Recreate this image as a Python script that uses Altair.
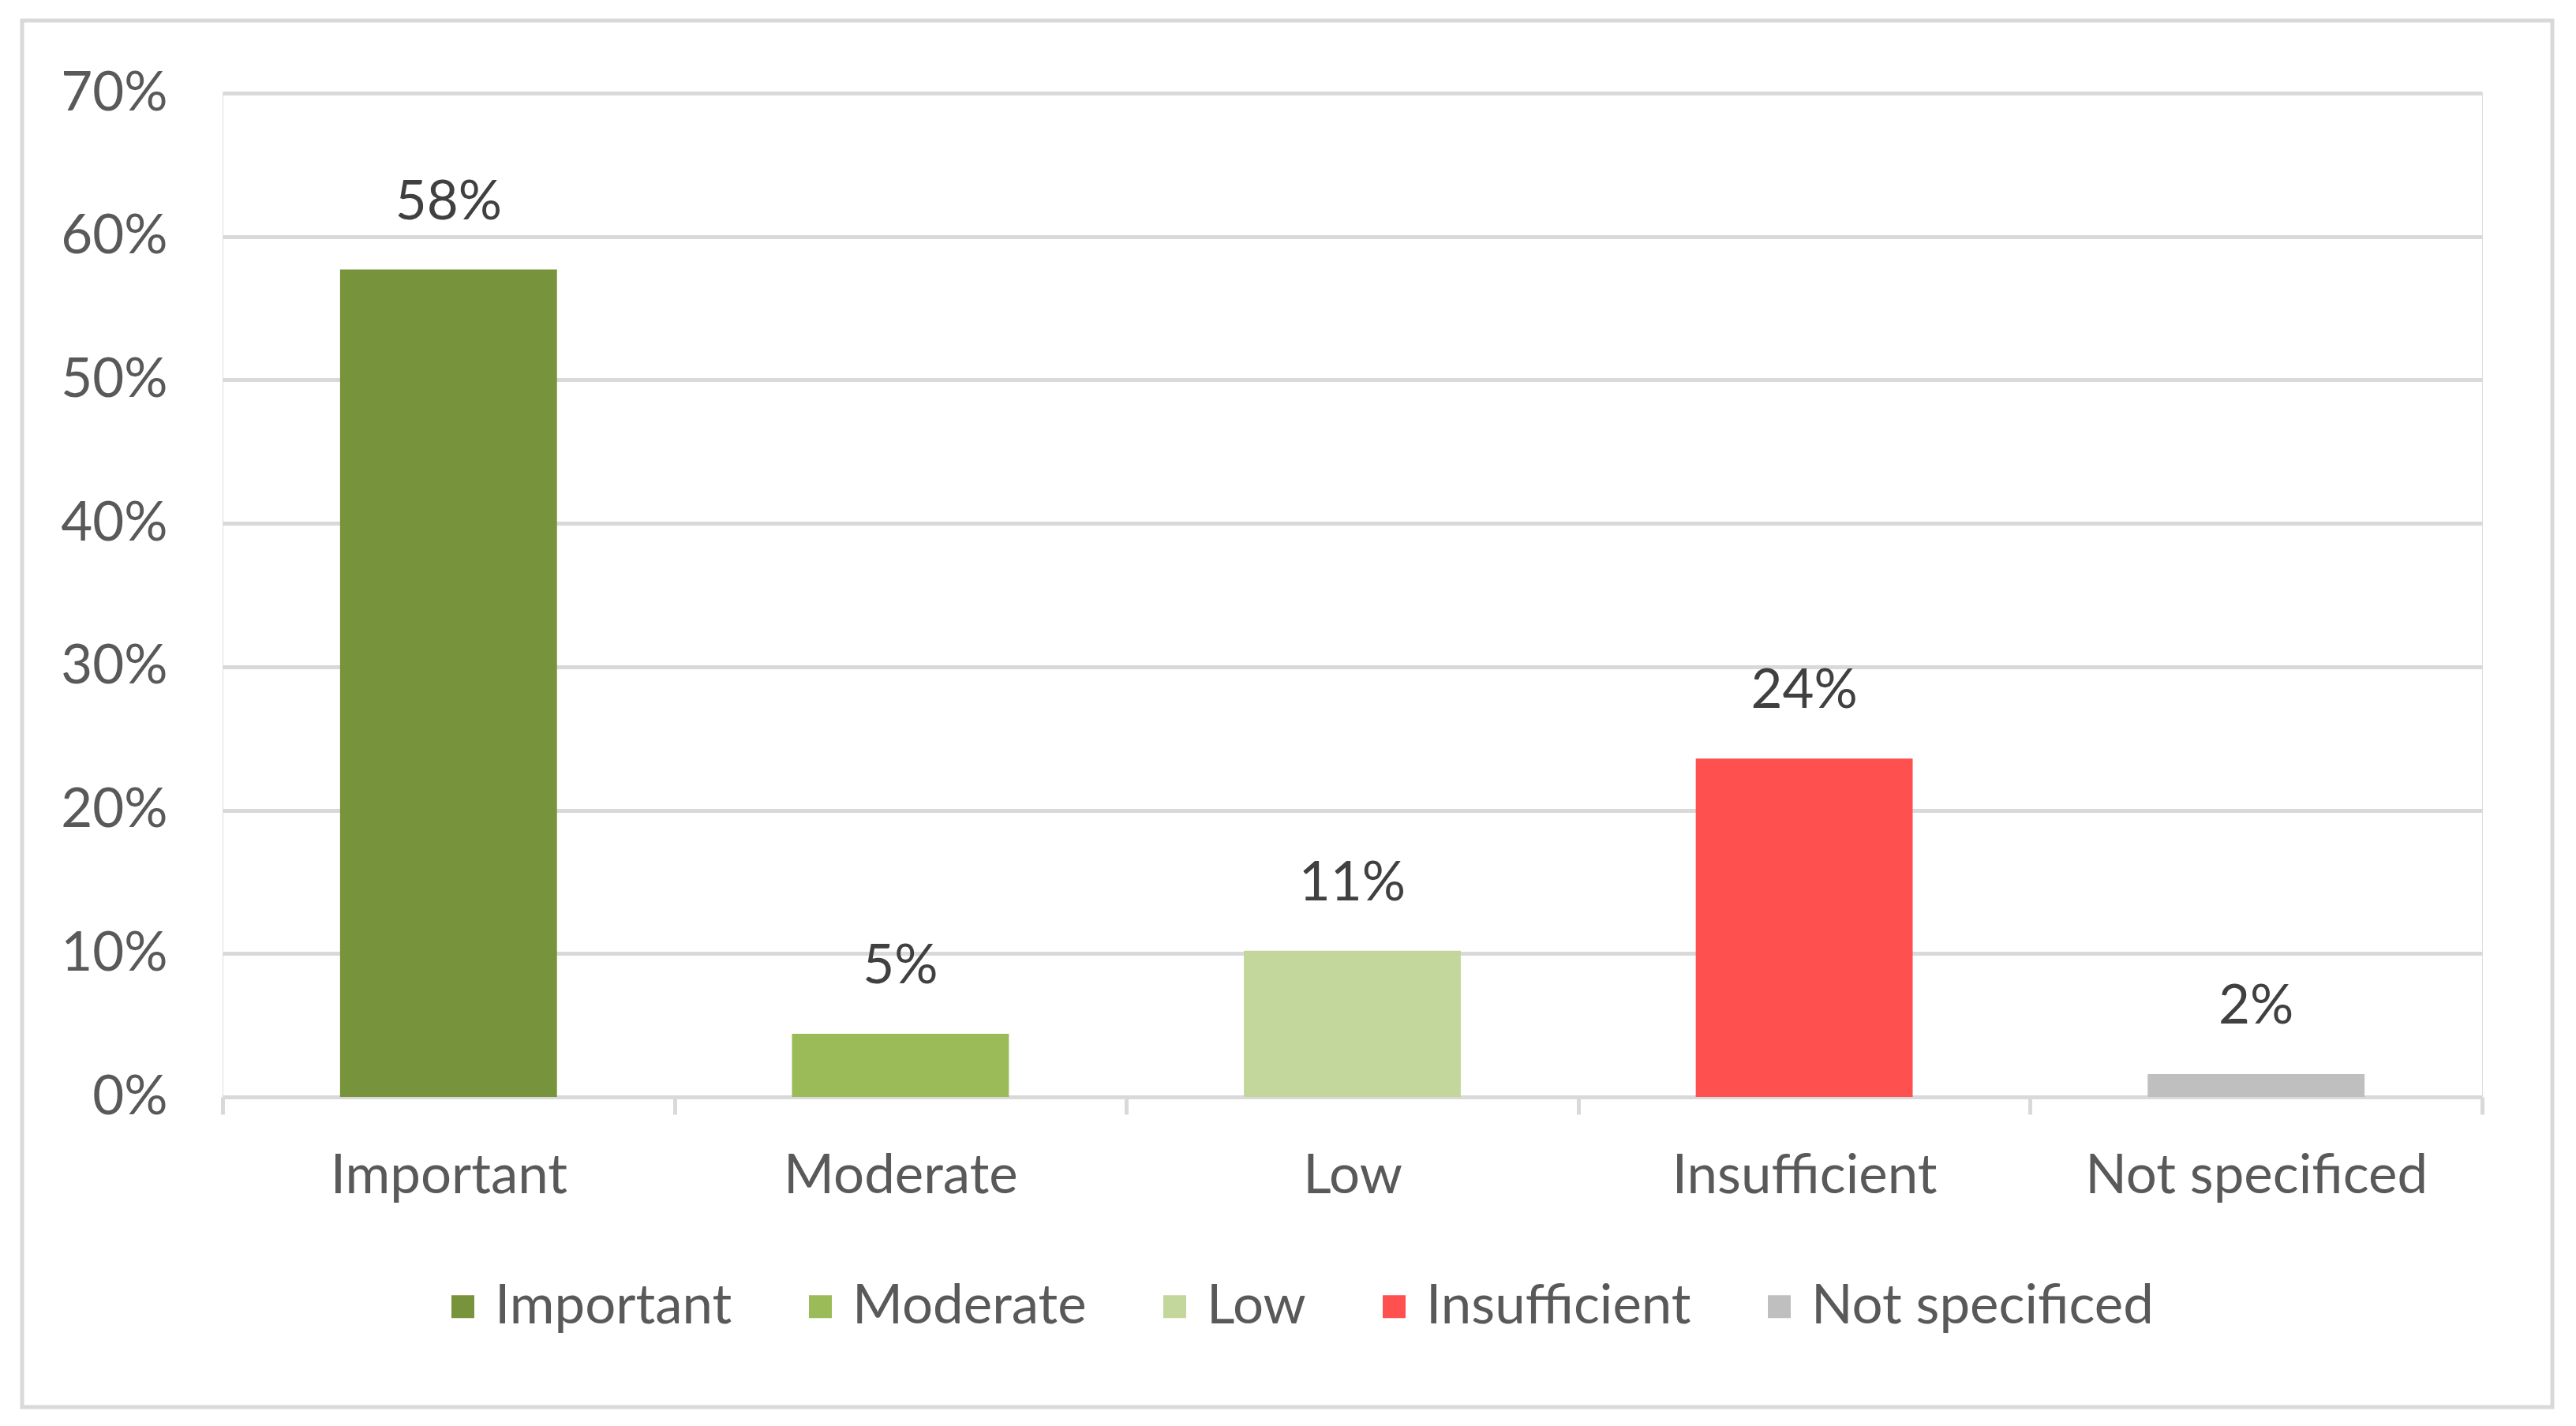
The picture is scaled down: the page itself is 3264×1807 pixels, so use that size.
import altair as alt
import pandas as pd

categories = ["Important", "Moderate", "Low", "Insufficient", "Not specificed"]
values = [0.577, 0.044, 0.102, 0.236, 0.016]
labels = ["58%", "5%", "11%", "24%", "2%"]
colors = ["#77933C", "#9BBB59", "#C3D69B", "#FF5050", "#BFBFBF"]
y_ticks = [0, 0.1, 0.2, 0.3, 0.4, 0.5, 0.6, 0.7]

df = pd.DataFrame({"category": categories, "value": values, "label": labels})

FONT = "Lato"
FS = 69
GRID = "#D9D9D9"
LW = 5

x_enc = alt.X(
    "category:N",
    sort=categories,
    scale=alt.Scale(paddingInner=0, paddingOuter=0),
    axis=alt.Axis(
        title=None,
        labelAngle=0,
        labelFont=FONT,
        labelFontSize=FS,
        labelColor="#595959",
        labelPadding=44,
        labelLimit=2000,
        domainColor=GRID,
        domainWidth=LW,
        tickColor=GRID,
        tickWidth=LW,
        tickSize=22,
        tickBand="extent",
        grid=False,
    ),
)
y_enc = alt.Y(
    "value:Q",
    scale=alt.Scale(domain=[0, 0.7], nice=False),
    axis=alt.Axis(
        title=None,
        values=y_ticks,
        format=".0%",
        domain=False,
        ticks=False,
        grid=True,
        gridColor=GRID,
        gridWidth=LW,
        labelFont=FONT,
        labelFontSize=FS,
        labelColor="#595959",
        labelPadding=70,
    ),
)

base = alt.Chart(df)

bars = base.mark_bar(width=alt.RelativeBandSize(0.48)).encode(
    x=x_enc,
    y=y_enc,
    color=alt.Color(
        "category:N",
        sort=categories,
        scale=alt.Scale(domain=categories, range=colors),
        legend=alt.Legend(
            title=None,
            orient="none",
            direction="horizontal",
            legendX=270,
            legendY=1503,
            symbolType="square",
            symbolSize=841,
            symbolStrokeWidth=0,
            labelFont=FONT,
            labelFontSize=FS,
            labelColor="#595959",
            labelOffset=6,
            labelLimit=2000,
            columnPadding=77,
        ),
    ),
)

text = base.mark_text(
    font=FONT, fontSize=FS, color="#404040", baseline="alphabetic", dy=-64
).encode(
    x=alt.X("category:N", sort=categories),
    y=alt.Y("value:Q"),
    text="label:N",
)

frame = alt.Chart(pd.DataFrame({"frame": [0]})).mark_rect(
    fill=None, stroke=GRID, strokeWidth=5
).encode(
    x=alt.value(-254), x2=alt.value(2952), y=alt.value(-92), y2=alt.value(1665)
)

chart = (
    alt.layer(frame, bars, text)
    .properties(
        width=2863,
        height=1272,
        padding={"left": 17, "top": 15, "right": 10, "bottom": 10},
    )
    .configure_view(stroke=None)
    .configure(background="white")
)

chart.save("out.html", embed_options={"renderer": "svg", "actions": False})
